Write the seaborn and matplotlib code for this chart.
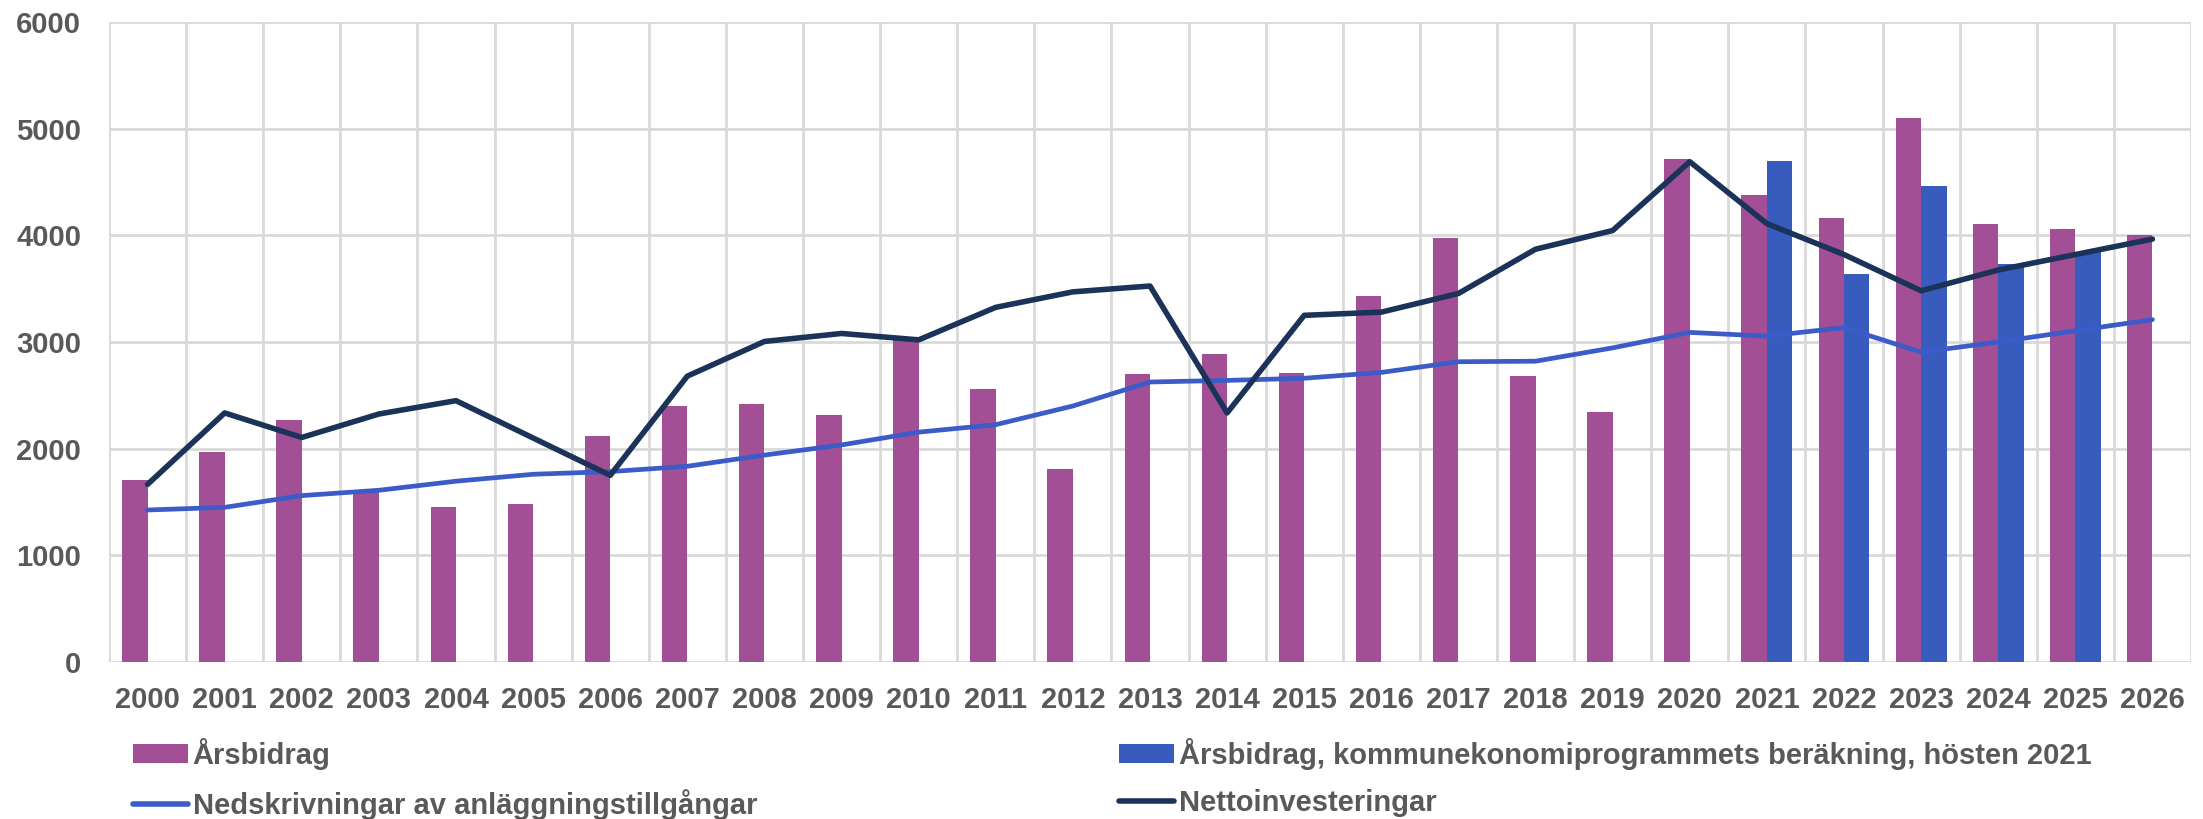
import pandas as pd
import matplotlib
matplotlib.use('Agg')
from matplotlib import pyplot as plt
from matplotlib.patches import Patch
from matplotlib.lines import Line2D
import seaborn as sns

# DATA
years = [str(y) for y in range(2000, 2027)]
arsbidrag = [1710, 1965, 2270, 1600, 1455, 1485, 2120, 2400, 2415, 2320,
             3025, 2560, 1805, 2700, 2885, 2710, 3435, 3975, 2680, 2345,
             4720, 4375, 4160, 5100, 4105, 4060, 4005]
prog_years = ['2021', '2022', '2023', '2024', '2025']
prog_values = [4695, 3640, 4460, 3730, 3840]
nedskrivningar = [1425, 1450, 1560, 1610, 1695, 1760, 1785, 1835, 1940, 2035,
                  2155, 2225, 2400, 2625, 2640, 2660, 2715, 2815, 2820, 2945,
                  3090, 3055, 3135, 2905, 3000, 3105, 3210]
nettoinv = [1665, 2335, 2105, 2325, 2450, 2100, 1750, 2680, 3005, 3080,
            3020, 3325, 3470, 3525, 2335, 3250, 3280, 3455, 3870, 4045,
            4690, 4110, 3820, 3480, 3675, 3820, 3965]

lab_ars = 'Årsbidrag'
lab_prog = 'Årsbidrag, kommunekonomiprogrammets beräkning, hösten 2021'
lab_ned = 'Nedskrivningar av anläggningstillgångar'
lab_net = 'Nettoinvesteringar'

c_purple = '#A34F96'
c_bluebar = '#385BBE'
c_blueline = '#3A5BC8'
c_navy = '#1B3358'
c_text = '#595959'
c_grid = '#D9D9D9'

bars = pd.concat([
    pd.DataFrame({'year': years, 'value': arsbidrag, 'serie': lab_ars}),
    pd.DataFrame({'year': prog_years, 'value': prog_values, 'serie': lab_prog}),
])
lines = pd.DataFrame({'year': years, 'ned': nedskrivningar, 'net': nettoinv})

sns.set_style('white')
plt.rcParams['font.family'] = ['Liberation Sans', 'DejaVu Sans']
plt.rcParams['font.weight'] = 'bold'

fig = plt.figure(figsize=(22.03, 8.19), dpi=100)
ax = fig.add_axes([109/2203, 1-662/819, (2191-109)/2203, (662-22)/819])

sns.barplot(data=bars, x='year', y='value', hue='serie', order=years,
            hue_order=[lab_ars, lab_prog],
            palette={lab_ars: c_purple, lab_prog: c_bluebar},
            width=0.66, linewidth=0, saturation=1, errorbar=None,
            legend=False, ax=ax, zorder=2)
sns.pointplot(data=lines, x='year', y='ned', order=years, color=c_blueline,
              markers='', linewidth=3.4, errorbar=None, ax=ax, zorder=3)
sns.pointplot(data=lines, x='year', y='net', order=years, color=c_navy,
              markers='', linewidth=4, errorbar=None, ax=ax, zorder=4)

ax.set_xlim(-0.5, len(years) - 0.5)
ax.set_ylim(0, 6000)
ax.set_yticks(range(0, 6001, 1000))
ax.set_xticks([i - 0.5 for i in range(len(years) + 1)], minor=True)
ax.grid(False)
ax.yaxis.grid(True, color=c_grid, linewidth=2, zorder=0)
ax.xaxis.grid(True, which='minor', color=c_grid, linewidth=2, zorder=0)
ax.set_axisbelow(True)
for s in ax.spines.values():
    s.set_visible(False)
ax.set_xlabel('')
ax.set_ylabel('')
ax.tick_params(axis='both', which='both', length=0, labelsize=21, labelcolor=c_text)
ax.tick_params(axis='x', pad=17)
ax.tick_params(axis='y', pad=20)
for t in ax.get_xticklabels() + ax.get_yticklabels():
    t.set_fontweight('bold')

handles = [Patch(facecolor=c_purple, edgecolor='none'),
           Line2D([], [], color=c_blueline, linewidth=4),
           Patch(facecolor=c_bluebar, edgecolor='none'),
           Line2D([], [], color=c_navy, linewidth=4)]
labels = [lab_ars, lab_ned, lab_prog, lab_net]
leg = fig.legend(handles, labels, ncol=2, loc='upper left',
                 bbox_to_anchor=(133/2203, 1-738/819), frameon=False,
                 borderpad=0, borderaxespad=0, handlelength=1.9,
                 handleheight=0.6, handletextpad=0.15, labelspacing=0.66,
                 columnspacing=12.4,
                 prop={'size': 21, 'weight': 'bold', 'family': ['Liberation Sans', 'DejaVu Sans']})
for t in leg.get_texts():
    t.set_color(c_text)

fig.savefig('out.png', dpi=100)
